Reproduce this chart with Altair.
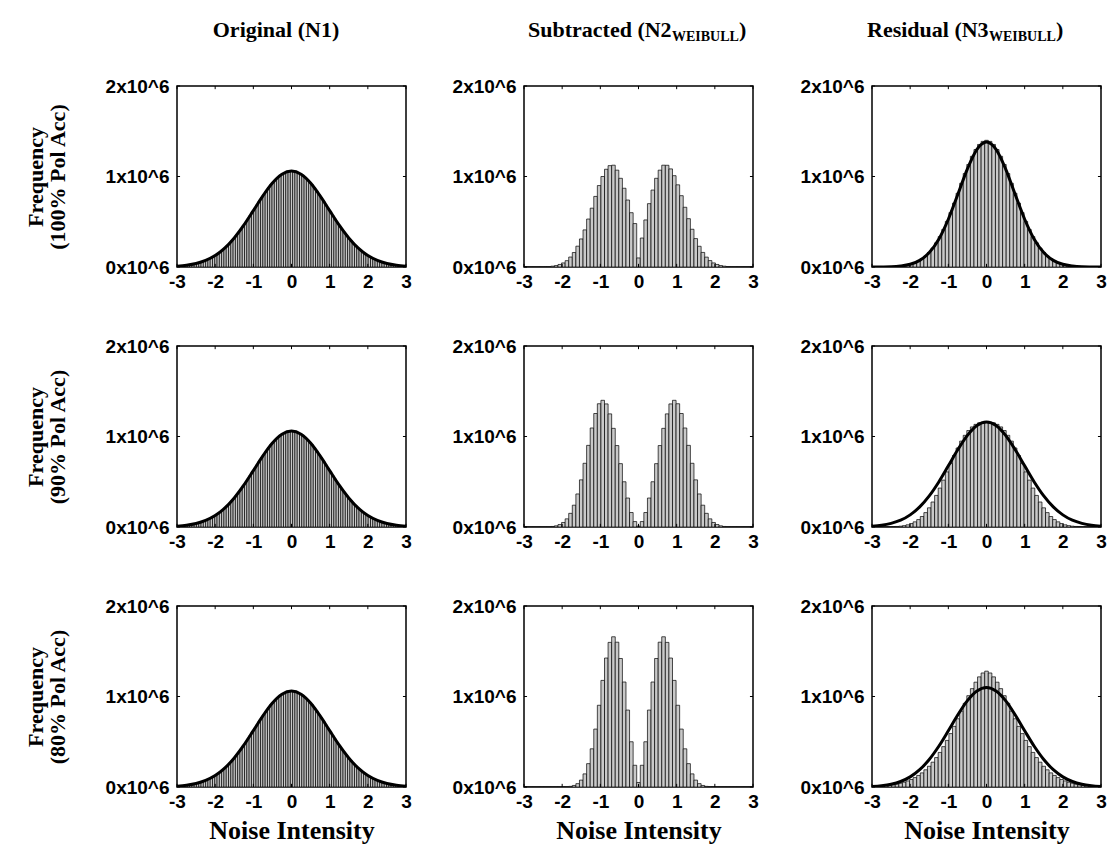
import altair as alt
import pandas as pd

# ------------------------------------------------------------------ data
TICKS_X = [-3, -2, -1, 0, 1, 2, 3]
TICKS_Y = [0, 1, 2]          # in units of 10^6

ROW_LABELS = ["(100% Pol Acc)", "(90% Pol Acc)", "(80% Pol Acc)"]

# Original (N1): 101 bins of width 0.06 centred on k*0.06, k = -50..50  (x10^6)
ORIG_BIN_WIDTH = 0.06
ORIG_BIN_INDEX = list(range(-50, 51))
ORIGINAL_HIST = [
    0.009, 0.011, 0.013, 0.015, 0.019, 0.022, 0.026, 0.031, 0.036, 0.043,
    0.050, 0.058, 0.067, 0.077, 0.089, 0.102, 0.116, 0.132, 0.149, 0.169,
    0.189, 0.212, 0.237, 0.263, 0.291, 0.321, 0.352, 0.385, 0.420, 0.456,
    0.493, 0.531, 0.570, 0.610, 0.650, 0.689, 0.729, 0.767, 0.805, 0.841,
    0.875, 0.908, 0.938, 0.965, 0.989, 1.010, 1.028, 1.042, 1.052, 1.058,
    1.060,
    1.058, 1.052, 1.042, 1.028, 1.010, 0.989, 0.965, 0.938, 0.908, 0.875,
    0.841, 0.805, 0.767, 0.729, 0.689, 0.650, 0.610, 0.570, 0.531, 0.493,
    0.456, 0.420, 0.385, 0.352, 0.321, 0.291, 0.263, 0.237, 0.212, 0.189,
    0.169, 0.149, 0.132, 0.116, 0.102, 0.089, 0.077, 0.067, 0.058, 0.050,
    0.043, 0.036, 0.031, 0.026, 0.022, 0.019, 0.015, 0.013, 0.011, 0.009,
]

# Subtracted / Residual: 65 bins of width 0.09375 centred on k*0.09375, k = -32..32
BIN_WIDTH = 0.09375
BIN_INDEX = list(range(-32, 33))

SUB_100 = [
    0.001, 0.001, 0.001, 0.001, 0.001, 0.002, 0.003, 0.005, 0.009, 0.016,
    0.028, 0.045, 0.070, 0.110, 0.160, 0.230, 0.310, 0.410, 0.530, 0.650,
    0.780, 0.900, 1.000, 1.080, 1.120, 1.125, 1.070, 0.980, 0.870, 0.740,
    0.600, 0.480,
    0.100,
    0.320, 0.520, 0.700, 0.850, 0.980, 1.070, 1.125, 1.124, 1.084, 1.009,
    0.908, 0.788, 0.660, 0.534, 0.417, 0.314, 0.229, 0.161, 0.109, 0.071,
    0.045, 0.028, 0.016, 0.009, 0.005, 0.003, 0.002, 0.001, 0.001, 0.001,
    0.001, 0.001,
]
SUB_90 = [
    0.001, 0.001, 0.001, 0.001, 0.001, 0.001, 0.002, 0.003, 0.006, 0.013,
    0.027, 0.050, 0.090, 0.151, 0.241, 0.365, 0.521, 0.704, 0.902, 1.094,
    1.254, 1.362, 1.400, 1.360, 1.250, 1.090, 0.900, 0.700, 0.500, 0.320,
    0.160, 0.060,
    0.010,
    0.060, 0.160, 0.320, 0.500, 0.700, 0.900, 1.090, 1.250, 1.360, 1.400,
    1.362, 1.254, 1.094, 0.902, 0.704, 0.521, 0.365, 0.241, 0.151, 0.090,
    0.050, 0.027, 0.013, 0.006, 0.003, 0.002, 0.001, 0.001, 0.001, 0.001,
    0.001, 0.001,
]
SUB_80 = [
    0.001, 0.001, 0.001, 0.001, 0.001, 0.001, 0.001, 0.001, 0.001, 0.001,
    0.001, 0.001, 0.003, 0.007, 0.017, 0.037, 0.076, 0.145, 0.258, 0.422,
    0.640, 0.903, 1.178, 1.425, 1.598, 1.660, 1.600, 1.420, 1.160, 0.850,
    0.500, 0.240,
    0.050,
    0.240, 0.500, 0.850, 1.160, 1.420, 1.600, 1.660, 1.598, 1.425, 1.178,
    0.903, 0.640, 0.422, 0.258, 0.145, 0.076, 0.037, 0.017, 0.007, 0.003,
    0.001, 0.001, 0.001, 0.001, 0.001, 0.001, 0.001, 0.001, 0.001, 0.001,
    0.001, 0.001,
]
RES_100 = [
    0.001, 0.001, 0.001, 0.002, 0.002, 0.003, 0.005, 0.007, 0.011, 0.016,
    0.023, 0.034, 0.048, 0.066, 0.091, 0.122, 0.161, 0.209, 0.267, 0.336,
    0.415, 0.504, 0.601, 0.706, 0.815, 0.925, 1.033, 1.133, 1.223, 1.298,
    1.354, 1.388,
    1.400,
    1.388, 1.354, 1.298, 1.223, 1.133, 1.033, 0.925, 0.815, 0.706, 0.601,
    0.504, 0.415, 0.336, 0.267, 0.209, 0.161, 0.122, 0.091, 0.066, 0.048,
    0.034, 0.023, 0.016, 0.011, 0.007, 0.005, 0.003, 0.002, 0.002, 0.001,
    0.001, 0.001,
]
RES_90 = [
    0.001, 0.001, 0.001, 0.001, 0.002, 0.003, 0.004, 0.006, 0.009, 0.015,
    0.024, 0.038, 0.057, 0.082, 0.116, 0.159, 0.212, 0.276, 0.349, 0.430,
    0.518, 0.609, 0.701, 0.790, 0.873, 0.949, 1.013, 1.066, 1.106, 1.134,
    1.151, 1.158,
    1.160,
    1.158, 1.151, 1.134, 1.106, 1.066, 1.013, 0.949, 0.873, 0.790, 0.701,
    0.609, 0.518, 0.430, 0.349, 0.276, 0.212, 0.159, 0.116, 0.082, 0.057,
    0.038, 0.024, 0.015, 0.009, 0.006, 0.004, 0.003, 0.002, 0.001, 0.001,
    0.001, 0.001,
]
RES_80 = [
    0.005, 0.006, 0.009, 0.011, 0.015, 0.019, 0.025, 0.032, 0.042, 0.053,
    0.067, 0.083, 0.104, 0.128, 0.156, 0.190, 0.229, 0.274, 0.325, 0.382,
    0.446, 0.515, 0.590, 0.670, 0.754, 0.839, 0.925, 1.009, 1.087, 1.158,
    1.217, 1.260,
    1.280,
    1.260, 1.217, 1.158, 1.087, 1.009, 0.925, 0.839, 0.754, 0.670, 0.590,
    0.515, 0.446, 0.382, 0.325, 0.274, 0.229, 0.190, 0.156, 0.128, 0.104,
    0.083, 0.067, 0.053, 0.042, 0.032, 0.025, 0.019, 0.015, 0.011, 0.009,
    0.006, 0.005,
]

# fitted curves sampled every 0.25
FIT_X = [-3.0, -2.75, -2.5, -2.25, -2.0, -1.75, -1.5, -1.25, -1.0, -0.75, -0.5, -0.25,
         0.0, 0.25, 0.5, 0.75, 1.0, 1.25, 1.5, 1.75, 2.0, 2.25, 2.5, 2.75, 3.0]
FIT_ORIG = [0.009, 0.019, 0.038, 0.072, 0.126, 0.208, 0.321, 0.462, 0.623, 0.786, 0.928, 1.025,
            1.060, 1.025, 0.928, 0.786, 0.623, 0.462, 0.321, 0.208, 0.126, 0.072, 0.038, 0.019, 0.009]
FIT_RES_100 = [0.000, 0.001, 0.003, 0.011, 0.030, 0.073, 0.159, 0.307, 0.528, 0.803, 1.085, 1.300,
               1.380, 1.300, 1.085, 0.803, 0.528, 0.307, 0.159, 0.073, 0.030, 0.011, 0.003, 0.001, 0.000]
FIT_RES_90 = [0.009, 0.019, 0.040, 0.075, 0.134, 0.222, 0.344, 0.498, 0.676, 0.856, 1.013, 1.122,
              1.160, 1.122, 1.013, 0.856, 0.676, 0.498, 0.344, 0.222, 0.134, 0.075, 0.040, 0.019, 0.009]
FIT_RES_80 = [0.006, 0.015, 0.031, 0.061, 0.112, 0.191, 0.304, 0.450, 0.621, 0.798, 0.954, 1.061,
              1.100, 1.061, 0.954, 0.798, 0.621, 0.450, 0.304, 0.191, 0.112, 0.061, 0.031, 0.015, 0.006]

PANELS = [
    [("orig", ORIGINAL_HIST, FIT_ORIG), ("sub", SUB_100, None), ("res", RES_100, FIT_RES_100)],
    [("orig", ORIGINAL_HIST, FIT_ORIG), ("sub", SUB_90, None), ("res", RES_90, FIT_RES_90)],
    [("orig", ORIGINAL_HIST, FIT_ORIG), ("sub", SUB_80, None), ("res", RES_80, FIT_RES_80)],
]

# column titles: (text, font size, x offset px, y offset px, align)
COL_TITLES = [
    [("Original (N1)", 22, 99, -49, "center")],
    [("Subtracted (N2", 22, 4, -49, "left"), ("WEIBULL", 14, 148, -45, "left"), (")", 22, 215, -49, "left")],
    [("Residual (N3", 22, -5, -49, "left"), ("WEIBULL", 14, 117, -45, "left"), (")", 22, 184, -49, "left")],
]

# ------------------------------------------------------------------ style
W, H = 229, 181
SANS = "Liberation Sans"
SERIF = "Liberation Serif"
TICK_LEN_X = 0.08     # data units along x for y ticks
TICK_LEN_Y = 0.035    # data units along y for x ticks

XSCALE = alt.Scale(domain=[-3, 3], nice=False, zero=False)
YSCALE = alt.Scale(domain=[0, 2], nice=False, zero=True)


def x_axis(title):
    kw = dict(values=TICKS_X, ticks=False, domain=False, grid=False,
              labelFont=SANS, labelFontWeight="bold", labelFontSize=19,
              labelColor="black", labelFlush=False, labelPadding=5,
              labelExpr="(datum.value < 0 ? '-' : '') + abs(datum.value)")
    if title:
        kw.update(title=title, titleFont=SERIF, titleFontWeight="bold",
                  titleFontSize=26, titleColor="black", titlePadding=6)
    else:
        kw.update(title=None)
    return alt.Axis(**kw)


def y_axis(title):
    kw = dict(values=TICKS_Y, ticks=False, domain=False, grid=False,
              labelFont=SANS, labelFontWeight="bold", labelFontSize=19,
              labelColor="black", labelPadding=8,
              labelExpr="datum.value + 'x10^6'")
    if title:
        kw.update(title=title, titleFont=SERIF, titleFontWeight="bold",
                  titleFontSize=22, titleColor="black", titlePadding=36,
                  titleLineHeight=22)
    else:
        kw.update(title=None)
    return alt.Axis(**kw)


def panel(r, c):
    kind, hist, fit = PANELS[r][c]
    if kind == "orig":
        width, idx = ORIG_BIN_WIDTH, ORIG_BIN_INDEX
    else:
        width, idx = BIN_WIDTH, BIN_INDEX
    df = pd.DataFrame({
        "x0": [k * width - width / 2 for k in idx],
        "x1": [k * width + width / 2 for k in idx],
        "h": hist,
        "base": [0] * len(idx),
    })
    xt = "Noise Intensity" if r == 2 else None
    yt = ["Frequency", ROW_LABELS[r]] if c == 0 else None
    XA = x_axis(xt)
    YA = y_axis(yt)
    layers = [
        alt.Chart(df).mark_bar(fill="#c9c9c9", stroke="black", strokeWidth=0.7, clip=True).encode(
            x=alt.X("x0:Q", scale=XSCALE, axis=XA),
            x2="x1:Q",
            y=alt.Y("h:Q", scale=YSCALE, axis=YA),
            y2="base:Q",
        )
    ]
    if fit is not None:
        fdf = pd.DataFrame({"x": FIT_X, "y": fit})
        layers.append(
            alt.Chart(fdf).mark_line(color="black", strokeWidth=3, interpolate="monotone", clip=True).encode(
                x=alt.X("x:Q", scale=XSCALE, axis=XA),
                y=alt.Y("y:Q", scale=YSCALE, axis=YA),
            )
        )
    # inward ticks on all four sides
    tx = pd.DataFrame({"t": TICKS_X, "a0": [0] * 7, "a1": [TICK_LEN_Y] * 7,
                       "b0": [2] * 7, "b1": [2 - TICK_LEN_Y] * 7})
    ty = pd.DataFrame({"t": TICKS_Y, "a0": [-3] * 3, "a1": [-3 + TICK_LEN_X] * 3,
                       "b0": [3] * 3, "b1": [3 - TICK_LEN_X] * 3})
    for lo, hi in (("a0", "a1"), ("b0", "b1")):
        layers.append(alt.Chart(tx).mark_rule(color="black", strokeWidth=1).encode(
            x=alt.X("t:Q", scale=XSCALE, axis=XA),
            y=alt.Y(f"{lo}:Q", scale=YSCALE, axis=YA), y2=f"{hi}:Q"))
        layers.append(alt.Chart(ty).mark_rule(color="black", strokeWidth=1).encode(
            y=alt.Y("t:Q", scale=YSCALE, axis=YA),
            x=alt.X(f"{lo}:Q", scale=XSCALE, axis=XA), x2=f"{hi}:Q"))
    if r == 0:
        for text, size, px, py, align in COL_TITLES[c]:
            tdf = pd.DataFrame({"label": [text]})
            layers.append(alt.Chart(tdf).mark_text(
                font=SERIF, fontWeight="bold", fontSize=size, align=align,
                baseline="alphabetic", color="black").encode(
                text="label:N", x=alt.value(px), y=alt.value(py)))
    return alt.layer(*layers).properties(width=W, height=H)


rows = [
    alt.hconcat(alt.hconcat(panel(r, 0), panel(r, 1), spacing=38), panel(r, 2), spacing=39)
    for r in range(3)
]
chart = alt.vconcat(*rows, spacing=44).properties(
    padding={"left": 23, "top": 18, "right": 5, "bottom": 0},
    background="white",
).configure_view(stroke="black", strokeWidth=1.5)

chart.save("out.html", embed_options={"renderer": "svg", "actions": False})
